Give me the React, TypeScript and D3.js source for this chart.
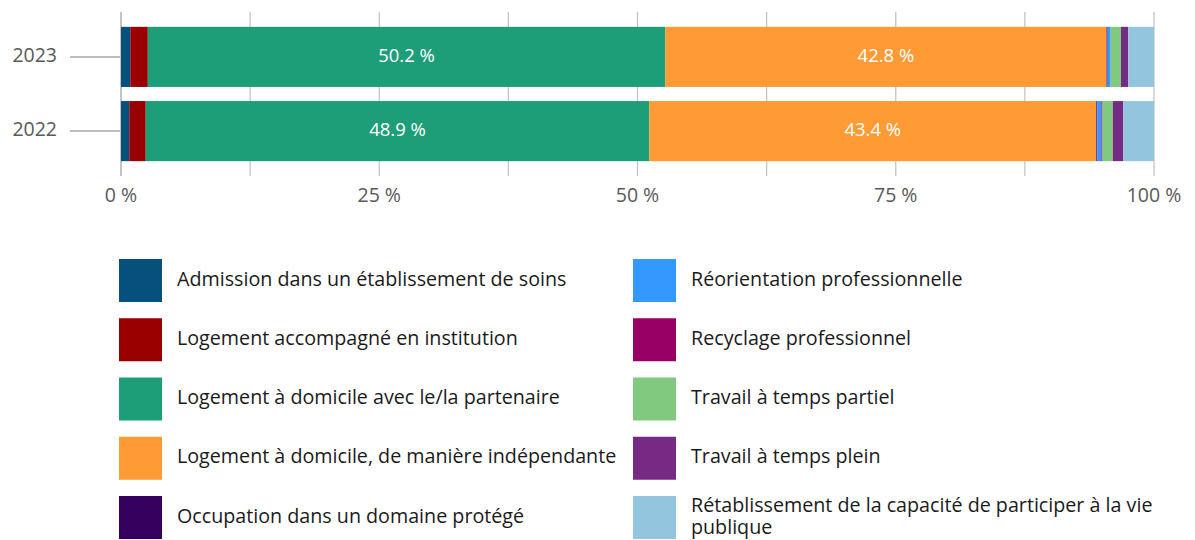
import React from "react";
import * as d3 from "d3";

// chart data (percent shares per year)
const years = ["2023", "2022"];
const categories = [
  "Admission dans un établissement de soins",
  "Logement accompagné en institution",
  "Logement à domicile avec le/la partenaire",
  "Logement à domicile, de manière indépendante",
  "Occupation dans un domaine protégé",
  "Réorientation professionnelle",
  "Recyclage professionnel",
  "Travail à temps partiel",
  "Travail à temps plein",
  "Rétablissement de la capacité de participer à la vie publique",
];
const values2023 = [0.9, 1.7, 50.2, 42.8, 0.1, 0.3, 0.0, 1.0, 0.7, 2.5];
const values2022 = [0.8, 1.6, 48.9, 43.4, 0.1, 0.4, 0.1, 1.0, 1.0, 3.0];
const colors = [
  "#05507c", "#990000", "#1d9d78", "#ff9b35", "#35005e",
  "#3399ff", "#990066", "#80c97f", "#772a83", "#94c5de",
];
const xTicks = [0, 0.25, 0.5, 0.75, 1];
const minorTicks = [0, 0.125, 0.25, 0.375, 0.5, 0.625, 0.75, 0.875, 1];

const W = 1195;
const H = 540;
const FONT = "'Open Sans', 'Noto Sans', sans-serif";

const App = () => {
  const rows = [values2023, values2022].map((vals, i) => {
    const r: any = { year: years[i] };
    categories.forEach((c, j) => (r[c] = vals[j]));
    return r;
  });

  // percent stack, normalised per year
  const series = d3.stack().keys(categories).offset(d3.stackOffsetExpand)(rows);

  const x = d3.scaleLinear().domain([0, 1]).range([121, 1154]);
  const y = d3.scaleBand().domain(years).range([12, 176]).paddingInner(0.19).paddingOuter(0.2);

  const legendRows = 5;
  const legendPitch = 59.25;

  return (
    <div style={{ position: "absolute", left: 0, top: 0 }}>
      <svg width={W} height={H} style={{ display: "block", fontFamily: FONT }}>
        {/* grid */}
        {minorTicks.map((t) => (
          <line key={"g" + t} x1={x(t)} x2={x(t)} y1={12} y2={176}
            stroke="#c4c4c4" strokeWidth={t === 0 ? 2 : 1.3} />
        ))}
        {/* y ticks */}
        {years.map((yr) => (
          <g key={"y" + yr}>
            <line x1={70} x2={120} y1={y(yr)! + y.bandwidth() / 2} y2={y(yr)! + y.bandwidth() / 2}
              stroke="#bdbdbd" strokeWidth={2} />
            <text x={57} y={y(yr)! + y.bandwidth() / 2} textAnchor="end" dominantBaseline="middle"
              fontSize={19.5} fill="#595959">{yr}</text>
          </g>
        ))}
        {/* bars */}
        {series.map((s, si) => (
          <g key={s.key} fill={colors[si]}>
            {s.map((d: any) => (
              <rect key={d.data.year} x={x(d[0])} y={y(d.data.year)}
                width={Math.max(0, x(d[1]) - x(d[0]))} height={y.bandwidth()} />
            ))}
          </g>
        ))}
        {/* labels */}
        {series.map((s) =>
          s.map((d: any) => {
            const v = d.data[s.key];
            if (v < 10) return null;
            return (
              <text key={s.key + d.data.year} x={(x(d[0]) + x(d[1])) / 2}
                y={y(d.data.year)! + y.bandwidth() / 2} textAnchor="middle" dominantBaseline="middle"
                fontSize={18.5} fill="#ffffff">
                {d3.format(".1f")(v) + " %"}
              </text>
            );
          })
        )}
        {/* x axis labels */}
        {xTicks.map((t) => (
          <text key={"x" + t} x={x(t)} y={197} textAnchor="middle" dominantBaseline="middle"
            fontSize={19.5} fill="#595959">{d3.format(".0f")(t * 100) + " %"}</text>
        ))}
        {/* legend */}
        {categories.map((c, i) => {
          const col = Math.floor(i / legendRows);
          const row = i % legendRows;
          const sx = col === 0 ? 119 : 633;
          const sy = 259 + row * legendPitch;
          const lines = c.length > 50
            ? ["Rétablissement de la capacité de participer à la vie", "publique"]
            : [c];
          const cy = sy + 21.5 - ((lines.length - 1) * 22) / 2;
          return (
            <g key={"l" + c}>
              <rect x={sx} y={sy} width={43} height={43} fill={colors[i]} />
              <text x={sx + 58} y={cy} dominantBaseline="middle" fontSize={19.7} fill="#1a1a1a">
                {lines.map((ln, li) => (
                  <tspan key={li} x={sx + 58} dy={li === 0 ? 0 : 22}>{ln}</tspan>
                ))}
              </text>
            </g>
          );
        })}
      </svg>
    </div>
  );
};

export default App;
